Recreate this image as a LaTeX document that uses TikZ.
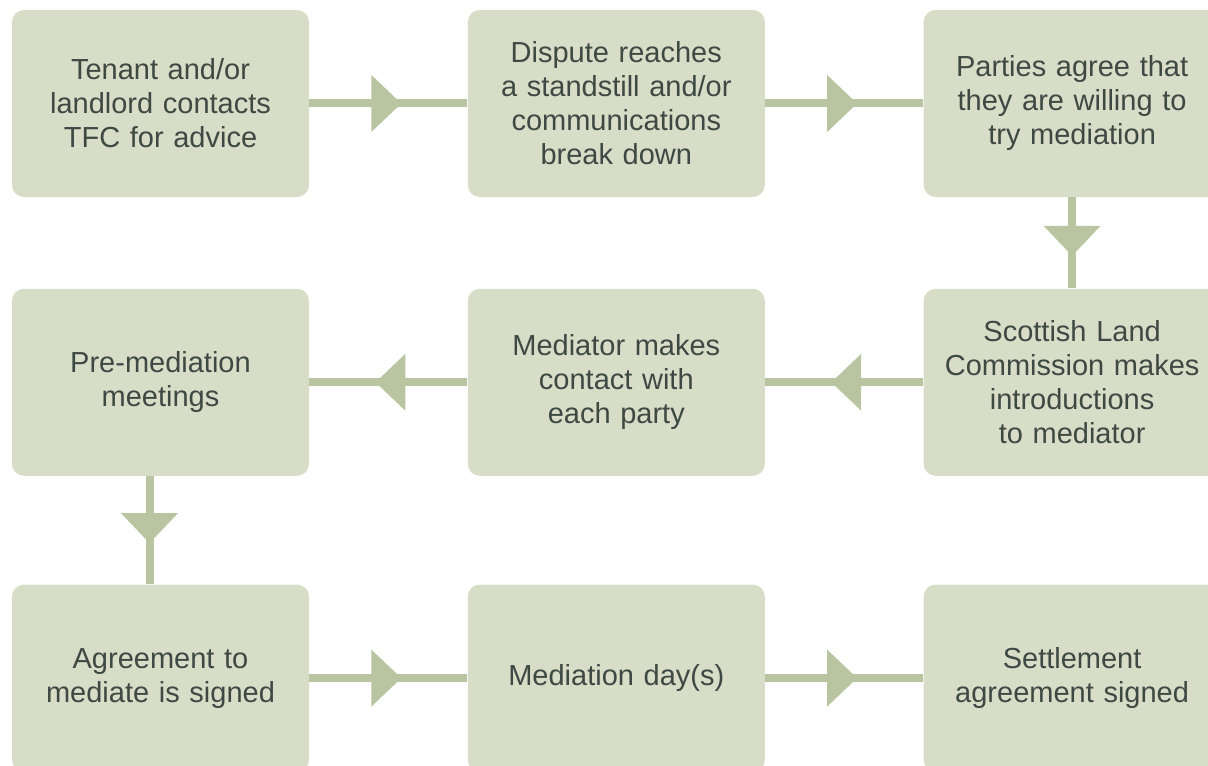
\documentclass[tikz,border=0pt]{standalone}
\usepackage{fontspec}
\setmainfont{Liberation Sans}
\usetikzlibrary{positioning,arrows.meta,decorations.markings}
\definecolor{boxfill}{HTML}{D8DDC8}
\definecolor{flowgreen}{HTML}{B8C5A0}
\definecolor{textgrey}{HTML}{3E4944}
\begin{document}
\begin{tikzpicture}[x=0.5pt, y=-0.5pt, node distance={79pt},
    stage/.style = {fill=boxfill, rounded corners=6pt, minimum width=148.5pt, minimum height=93.5pt,
        text width=140pt, align=center, inner sep=0pt, text=textgrey, font=\fontsize{14.5}{17}\selectfont},
    flow/.style = {color=flowgreen, line width=4pt, postaction={decorate},
        decoration={markings, mark=at position 0.5 with {\arrow[xshift=6.5pt]{Triangle[width=27.5pt, length=15pt]}}}}]
    \useasboundingbox (0,0) rectangle (1208,765);
    \clip (0,0) rectangle (1208,765);
    \node[stage] (contact) at (160.5,103.5) {Tenant and/or\\landlord contacts\\TFC for advice};
    \node[stage, right=of contact] (standstill) {Dispute reaches\\a standstill and/or\\communications\\break down};
    \node[stage, right=of standstill] (willing) {Parties agree that\\they are willing to\\try mediation};
    \node[stage, below=45.5pt of willing] (intro) {Scottish Land\\Commission makes\\introductions\\to mediator};
    \node[stage, left=of intro] (eachparty) {Mediator makes\\contact with\\each party};
    \node[stage, left=of eachparty] (premed) {Pre-mediation\\meetings};
    \node[stage, below=54pt of premed] (signed) {Agreement to\\mediate is signed};
    \node[stage, right=of signed] (day) {Mediation day(s)};
    \node[stage, right=of day] (settle) {Settlement\\agreement signed};
    \draw[flow] (contact) -- (standstill);
    \draw[flow] (standstill) -- (willing);
    \draw[flow] (willing) -- (intro);
    \draw[flow] (intro) -- (eachparty);
    \draw[flow] (eachparty) -- (premed);
    \draw[flow] ([xshift=-5.5pt]premed.south) -- ([xshift=-5.5pt]signed.north);
    \draw[flow] (signed) -- (day);
    \draw[flow] (day) -- (settle);
\end{tikzpicture}
\end{document}
